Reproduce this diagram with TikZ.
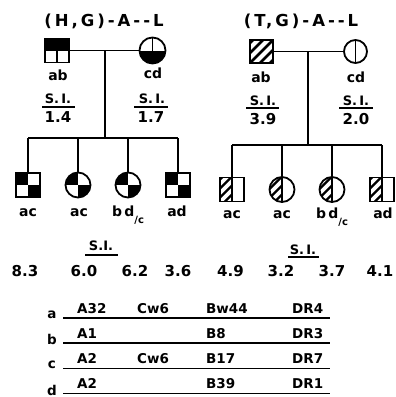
\documentclass[tikz,border=0pt]{standalone}
\usepackage{fontspec}
\setmainfont{DejaVu Sans}
\usetikzlibrary{positioning,calc}

\tikzset{
  pedline/.style={line width=1.8pt},
  hapline/.style={line width=1.7pt},
  person/.style={draw,line width=1.8pt,inner sep=0pt,fill=white},
  male/.style={person,rectangle,minimum size=#1},
  male/.default=24pt,
  female/.style={person,circle,minimum size=#1},
  female/.default=25pt,
  % fillings of the symbols
  blacktop/.style={path picture={
      \fill[black] (path picture bounding box.north west) rectangle (path picture bounding box.east);
      \draw[line width=1.8pt] (path picture bounding box.center) -- (path picture bounding box.south);}},
  blackbottom/.style={path picture={
      \fill[black] (path picture bounding box.west) rectangle (path picture bounding box.south east);
      \draw[line width=1.8pt] (path picture bounding box.center) -- (path picture bounding box.north);}},
  quarters/.style={path picture={
      \fill[black] (path picture bounding box.north west) rectangle (path picture bounding box.center);
      \fill[black] (path picture bounding box.center) rectangle (path picture bounding box.south east);}},
  hatched/.style={path picture={
      \foreach \k in {-3,...,3}
        \draw[line width=2.6pt] ($(path picture bounding box.center)+(\k*10pt-20pt,-20pt)$) -- ++(40pt,40pt);}},
  halfhatched/.style={path picture={
      \begin{scope}
        \clip (path picture bounding box.north west) rectangle (path picture bounding box.south);
        \foreach \k in {-3,...,3}
          \draw[line width=2.4pt] ($(path picture bounding box.center)+(\k*9pt-24pt,-20pt)$) -- ++(40pt,40pt);
      \end{scope}
      \draw[line width=1.8pt] (path picture bounding box.north) -- (path picture bounding box.south);}},
  splitline/.style={path picture={
      \draw[line width=1.8pt] (path picture bounding box.north) -- (path picture bounding box.south);}},
  % texts
  ttl/.style={inner sep=0pt,font={\bfseries\fontsize{16.5}{17}\selectfont\addfontfeature{LetterSpace=18}}},
  lbl/.style={inner sep=0pt,anchor=base,font=\bfseries\fontsize{14}{14}\selectfont},
  si/.style={inner sep=0pt,font=\bfseries\fontsize{13}{13}\selectfont},
  val/.style={inner sep=0pt,font=\bfseries\fontsize{15}{15}\selectfont},
  hl/.style={inner sep=0pt,font=\bfseries\fontsize{13.5}{14}\selectfont},
}

\newcommand{\sublbl}{\raisebox{-7pt}{\fontsize{10}{10}\selectfont/c}}

\begin{document}
\begin{tikzpicture}[x=1pt,y=-1pt]
    \useasboundingbox (0,0) rectangle (396,397);

    % (H,G)-A--L family
    \node[ttl] (ttlHG) at (104,21) {(H,G)-A-{}-L};
    \node[male,blacktop] (fHG) at (57,50.5) {};
    \node[female=26pt,blackbottom] (mHG) at (152.5,50.5) {};
    \draw[pedline] (fHG) -- (mHG);
    \coordinate (jHG) at (105,50.5);
    \coordinate (sibHG) at (105,138);
    \draw[pedline] (jHG) -- (sibHG);

    \node[lbl] (lfHG) at (58,80) {ab};
    \node[lbl] (lmHG) at (153,78) {cd};

    \node[si] (sifHG) at (58,98.5) {S.\,I.};
    \draw[hapline] (42,106.7) -- (75,106.7);
    \node[val] (vfHG) at (58,117.5) {1.4};
    \node[si] (simHG) at (152,98.5) {S.\,I.};
    \draw[hapline] (134,106.7) -- (168,106.7);
    \node[val] (vmHG) at (151,117.5) {1.7};

    % children
    \node[male,quarters] (c1HG) at (28,185) {};
    \node[female,quarters] (c2HG) at (78,185) {};
    \node[female,quarters] (c3HG) at (128,185) {};
    \node[male,quarters] (c4HG) at (178,185) {};
    \draw[pedline] (c1HG |- sibHG) -- (c4HG |- sibHG);
    \foreach \c in {c1HG,c2HG,c3HG,c4HG}
      \draw[pedline] (\c |- sibHG) -- (\c.north);

    \node[lbl] at (28,216) {ac};
    \node[lbl] at (79,216) {ac};
    \node[lbl] at (128,216) {b\,d\sublbl};
    \node[lbl] at (177,216) {ad};

    \node[si] (siHG) at (101,246) {S.I.};
    \draw[hapline] (85,255) -- (118,255);
    \node[val] at (25,271.5) {8.3};
    \node[val] at (84,271.5) {6.0};
    \node[val] at (135,271.5) {6.2};
    \node[val] at (178,271.5) {3.6};

    % (T,G)-A--L family
    \node[ttl] (ttlTG) at (301,21) {(T,G)-A-{}-L};
    \node[male=23pt,hatched] (fTG) at (261.5,51.5) {};
    \node[female=23pt,splitline] (mTG) at (355.5,51.5) {};
    \draw[pedline] (fTG) -- (mTG);
    \coordinate (jTG) at (308,51.5);
    \coordinate (sibTG) at (308,145);
    \draw[pedline] (jTG) -- (sibTG);

    \node[lbl] (lfTG) at (261,82) {ab};
    \node[lbl] (lmTG) at (356,82) {cd};

    \node[si] (sifTG) at (263,101) {S.\,I.};
    \draw[hapline] (246,108) -- (279,108);
    \node[val] (vfTG) at (263,119) {3.9};
    \node[si] (simTG) at (356,101) {S.\,I.};
    \draw[hapline] (339,108) -- (373,108);
    \node[val] (vmTG) at (356,119) {2.0};

    % children
    \node[male,halfhatched] (c1TG) at (232,189.5) {};
    \node[female,halfhatched] (c2TG) at (282,189.5) {};
    \node[female,halfhatched] (c3TG) at (332,189.5) {};
    \node[male,halfhatched] (c4TG) at (382,189.5) {};
    \draw[pedline] (c1TG |- sibTG) -- (c4TG |- sibTG);
    \foreach \c in {c1TG,c2TG,c3TG,c4TG}
      \draw[pedline] (\c |- sibTG) -- (\c.north);

    \node[lbl] at (232,218) {ac};
    \node[lbl] at (282,218) {ac};
    \node[lbl] at (332,218) {b\,d\sublbl};
    \node[lbl] at (383,218) {ad};

    \node[si] (siTG) at (303,250) {S.\,I.};
    \draw[hapline] (288,257) -- (319,257);
    \node[val] at (230.5,271) {4.9};
    \node[val] at (281,271) {3.2};
    \node[val] at (332,271) {3.7};
    \node[val] at (380,271) {4.1};

    % haplotypes
    \foreach \h/\y/\ca/\cc/\cb/\cd in {a/318/A32/Cw6/Bw44/DR4, b/343/A1//B8/DR3,
                                      c/368.5/A2/Cw6/B17/DR7, d/393.5/A2//B39/DR1} {
      \node[hl] (hap\h) at (52,\y-3.5) {\h};
      \draw[hapline] (63,\y) -- (330,\y);
      \node[hl,anchor=base west] at (77,\y-5) {\ca};
      \node[hl,anchor=base west] at (137,\y-5) {\cc};
      \node[hl,anchor=base west] at (206,\y-5) {\cb};
      \node[hl,anchor=base west] at (292,\y-5) {\cd};
    }
\end{tikzpicture}
\end{document}
